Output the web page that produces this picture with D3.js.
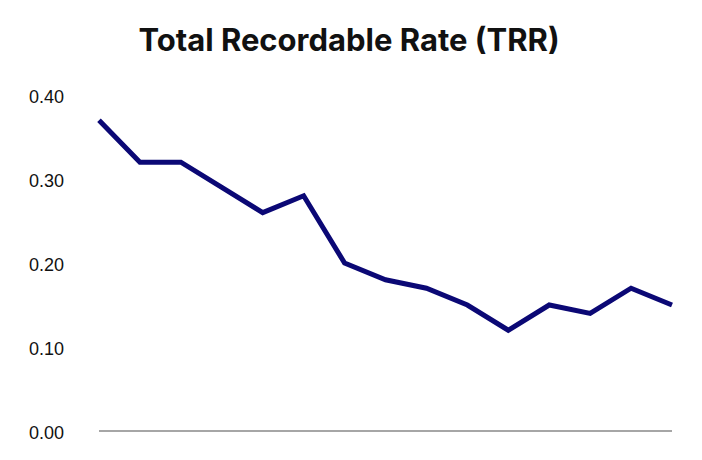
<!DOCTYPE html>
<html><head><meta charset="utf-8">
<script src="https://cdn.jsdelivr.net/npm/d3@7"></script>
<style>body{margin:0;background:#fff}svg{display:block}</style>
</head><body><svg id="c" width="702" height="460"></svg>
<script>
const title = "Total Recordable Rate (TRR)";
const periods = ["P1","P2","P3","P4","P5","P6","P7","P8","P9","P10","P11","P12","P13","P14","P15"];
const trr = [0.37,0.32,0.32,0.29,0.26,0.28,0.20,0.18,0.17,0.15,0.12,0.15,0.14,0.17,0.15];
const yTicks = [0,0.1,0.2,0.3,0.4];

const svg = d3.select("#c");
const x = d3.scalePoint().domain(periods).range([99,672]);
const y = d3.scaleLinear().domain([0,0.4]).range([431,95]);

svg.append("text").attr("x",349).attr("y",51).attr("text-anchor","middle")
  .attr("font-family","Inter, 'Open Sans', sans-serif").attr("font-weight",700)
  .attr("font-size",31).attr("fill","#111").text(title);

const ya = svg.append("g").attr("transform","translate(64,2)")
  .call(d3.axisLeft(y).tickValues(yTicks).tickFormat(d3.format(".2f")).tickSize(0).tickPadding(0));
ya.select(".domain").remove();
ya.selectAll("text").attr("font-family","'Liberation Sans', Arial, sans-serif").attr("font-size",18).attr("fill","#111");

svg.append("line").attr("x1",99).attr("x2",672).attr("y1",y(0)).attr("y2",y(0))
  .attr("stroke","#a6a6a6").attr("stroke-width",2);

svg.append("path").datum(trr)
  .attr("d", d3.line().x((d,i)=>x(periods[i])).y(d=>y(d)))
  .attr("fill","none").attr("stroke","#0b0875").attr("stroke-width",5).attr("stroke-linejoin","miter");
</script></body></html>
